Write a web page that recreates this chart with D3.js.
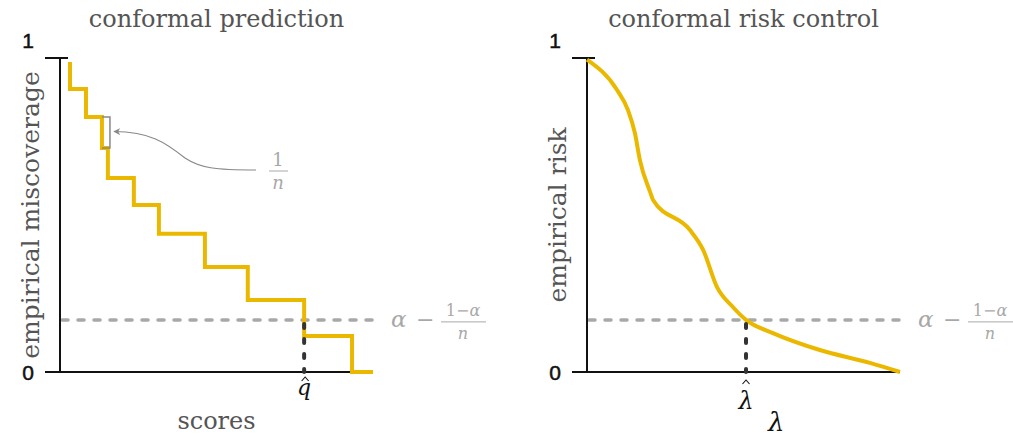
<!DOCTYPE html>
<html>
<head>
<meta charset="utf-8">
<script src="https://cdn.jsdelivr.net/npm/d3@7"></script>
<style>
  body{margin:0;background:#fff;}
  svg{display:block;}
  .serif{font-family:"DejaVu Serif",serif;}
  .sans{font-family:"Liberation Sans",Arial,sans-serif;}
</style>
</head>
<body>
<svg id="chart" width="1013" height="436"></svg>
<script>
// --- data ---
var yTicks = [0, 1];
// conformal prediction: empirical miscoverage as a step function of the score
var scores      = [0.032, 0.032, 0.083, 0.134, 0.153, 0.236, 0.316, 0.463, 0.600, 0.780, 0.933, 1.000];
var miscoverage = [0.987, 0.901, 0.812, 0.713, 0.618, 0.532, 0.440, 0.334, 0.229, 0.115, 0.000, 0.000];
// conformal risk control: smooth empirical risk curve over lambda
var lambdas = [0.000, 0.096, 0.131, 0.153, 0.169, 0.201, 0.211, 0.329, 0.371, 0.415, 0.466, 0.508, 0.594, 0.744, 0.904, 1.000];
var risks   = [0.995, 0.898, 0.834, 0.761, 0.675, 0.575, 0.548, 0.452, 0.389, 0.271, 0.207, 0.166, 0.124, 0.070, 0.029, 0.000];
var threshold = 0.166;   // alpha - (1-alpha)/n
var qHat = 0.780;
var lambdaHat = 0.508;

var svg = d3.select("#chart");
var gold = "#ebb800", grey = "#a8a8a8", text = "#555";

function hat(g, cx, cy){
	// little circumflex drawn over a symbol
	g.append("path").attr("d","M"+(cx-3.5)+","+(cy+4)+"L"+cx+","+cy+"L"+(cx+3.5)+","+(cy+4))
		.attr("fill","none").attr("stroke","#111").attr("stroke-width",1.1);
}

function panel(left, title, ylabel, ysize, xs, ys, curve, hatX, hatLabel, xlabel){
	var x = d3.scaleLinear().domain([0,1]).range([left, left+313]);
	var y = d3.scaleLinear().domain([0,1]).range([372, 58]);
	var g = svg.append("g");

	// threshold dashes
	g.append("line")
		.attr("x1", x(0)+2).attr("x2", x(1)+4)
		.attr("y1", y(threshold)).attr("y2", y(threshold))
		.attr("stroke", grey).attr("stroke-width", 3.5)
		.attr("stroke-dasharray", "6,10").attr("stroke-linecap","round");

	// axes
	g.append("line").attr("x1", x(0)).attr("x2", x(0)).attr("y1", y(0)).attr("y2", y(1))
		.attr("stroke","#111").attr("stroke-width",2);
	g.append("line").attr("x1", x(0)-15).attr("x2", x(1)).attr("y1", y(0)).attr("y2", y(0))
		.attr("stroke","#111").attr("stroke-width",2);
	yTicks.forEach(function(t){
		g.append("line").attr("x1", x(0)-15).attr("x2", x(0)+8).attr("y1", y(t)).attr("y2", y(t))
			.attr("stroke","#111").attr("stroke-width",2);
		g.append("text").attr("class","sans")
			.attr("x", x(0)-32).attr("y", t==1 ? y(t)-10 : y(t)+8)
			.attr("text-anchor","middle").attr("font-size",21).attr("fill","#111")
			.attr("stroke","#111").attr("stroke-width",0.5)
			.text(t);
	});

	// the curve
	var line = d3.line().x(function(d){return x(d[0]);}).y(function(d){return y(d[1]);}).curve(curve);
	g.append("path").datum(d3.zip(xs, ys))
		.attr("d", line).attr("fill","none")
		.attr("stroke", gold).attr("stroke-width", 4);

	// hat marker
	g.append("line").attr("x1", x(hatX)).attr("x2", x(hatX))
		.attr("y1", y(threshold)+4).attr("y2", y(0))
		.attr("stroke","#333").attr("stroke-width",4)
		.attr("stroke-dasharray","4,11").attr("stroke-linecap","round");

	// titles
	g.append("text").attr("class","serif").attr("x", x(0.5)).attr("y", 27)
		.attr("text-anchor","middle").attr("font-size",24).attr("fill",text).text(title);
	g.append("text").attr("class","serif")
		.attr("transform","translate("+(x(0)-21)+","+y(0.5)+") rotate(-90)")
		.attr("text-anchor","middle").attr("font-size",ysize).attr("fill",text).text(ylabel);

	// threshold label
	var lx = x(1)+18, ly = y(threshold);
	g.append("text").attr("class","serif").attr("x", lx).attr("y", ly+7)
		.attr("font-size",23).attr("font-style","italic").attr("fill",grey).text("\u03b1");
	g.append("text").attr("class","serif").attr("x", lx+25).attr("y", ly+7)
		.attr("font-size",22).attr("fill",grey).text("\u2212");
	g.append("text").attr("class","serif").attr("x", lx+72).attr("y", ly-4)
		.attr("text-anchor","middle").attr("font-size",16).attr("fill",grey)
		.html("1\u2212<tspan font-style='italic'>\u03b1</tspan>");
	g.append("line").attr("x1", lx+50).attr("x2", lx+95).attr("y1", ly+2).attr("y2", ly+2)
		.attr("stroke",grey).attr("stroke-width",1);
	g.append("text").attr("class","serif").attr("x", lx+72).attr("y", ly+19)
		.attr("text-anchor","middle").attr("font-size",16).attr("font-style","italic").attr("fill",grey).text("n");

	// hat label
	g.append("text").attr("class","serif").attr("x", x(hatX)).attr("y", hatLabel.y)
		.attr("text-anchor","middle").attr("font-size",hatLabel.size).attr("font-style","italic")
		.attr("fill","#111").text(hatLabel.text);
	hat(g, x(hatX)+hatLabel.dx, hatLabel.hy);

	// x label
	g.append("text").attr("class","serif").attr("x", x(xlabel.at)).attr("y", xlabel.y)
		.attr("text-anchor","middle").attr("font-size",xlabel.size)
		.attr("font-style", xlabel.italic ? "italic" : null)
		.attr("fill",xlabel.color).text(xlabel.text);

	return {x:x, y:y, g:g};
}

var left = panel(60, "conformal prediction", "empirical miscoverage", 25, scores, miscoverage,
	d3.curveStepAfter, qHat, {text:"q", y:395, size:22, dx:1, hy:377},
	{text:"scores", at:0.5, y:429, size:24, color:text});

var right = panel(587, "conformal risk control", "empirical risk", 25, lambdas, risks,
	d3.curveMonotoneX, lambdaHat, {text:"\u03bb", y:409, size:24, dx:0, hy:380},
	{text:"\u03bb", at:0.605, y:431, size:26, italic:true, color:"#111"});

// 1/n annotation on the left panel
var lx = left.x, ly = left.y;
var bx0 = lx(scores[3]), bx1 = lx(scores[3])+8;
left.g.append("path")
	.attr("d", "M"+bx0+","+ly(miscoverage[2])+"H"+bx1+"V"+ly(miscoverage[3])+"H"+bx0)
	.attr("fill","none").attr("stroke","#888").attr("stroke-width",1.5);
svg.append("defs").append("marker").attr("id","arr")
	.attr("viewBox","0 0 10 10").attr("refX",9).attr("refY",5)
	.attr("markerWidth",7).attr("markerHeight",7).attr("markerUnits","userSpaceOnUse")
	.attr("orient","auto")
	.append("path").attr("d","M0,0 L10,5 L0,10 L3,5 Z").attr("fill","#888");
var ax = bx1+4, ay = (ly(miscoverage[2])+ly(miscoverage[3]))/2 - 1;
left.g.append("path")
	.attr("d","M256,170 C215,170 200,168 185,158 C165,142 150,132 "+ax+","+ay)
	.attr("fill","none").attr("stroke","#888").attr("stroke-width",1.1)
	.attr("marker-end","url(#arr)");
left.g.append("text").attr("class","serif").attr("x",278).attr("y",166)
	.attr("text-anchor","middle").attr("font-size",18).attr("fill",grey).text("1");
left.g.append("line").attr("x1",269).attr("x2",288).attr("y1",171).attr("y2",171)
	.attr("stroke",grey).attr("stroke-width",1);
left.g.append("text").attr("class","serif").attr("x",278).attr("y",189)
	.attr("text-anchor","middle").attr("font-size",18).attr("font-style","italic").attr("fill",grey).text("n");
</script>
</body>
</html>
